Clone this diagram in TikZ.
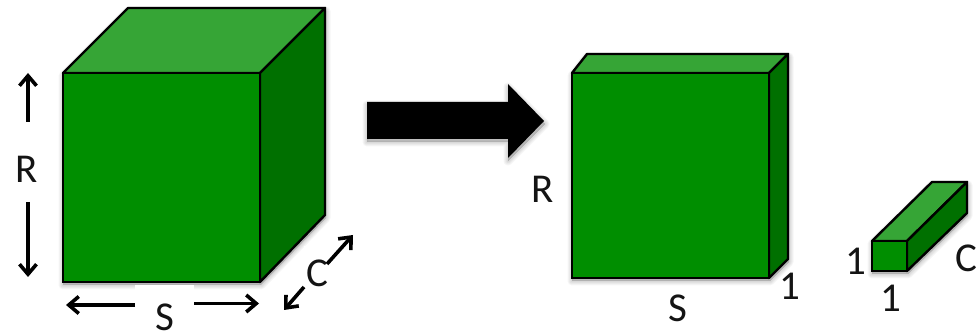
\documentclass[tikz,border=0pt]{standalone}
\usepackage{fontspec}
\setmainfont{Carlito}
\usetikzlibrary{arrows.meta}
\tikzset{
  front/.style={fill=frontgreen,draw=black,line width=2.4pt,line join=miter},
  topface/.style={fill=topgreen,draw=black,line width=2.4pt,line join=round},
  sideface/.style={fill=sidegreen,draw=black,line width=2.4pt,line join=round},
  dim/.style={draw=black,line width=3.6pt,-{Straight Barb[length=10pt,width=17pt,line width=3.6pt]}},
  lab/.style={font=\fontsize{41}{41}\selectfont,text=labelgray,inner sep=0pt,anchor=center},
  patch/.style={fill=white,draw=none},
  soft/.style={draw=black,fill=black,opacity=0.035,line join=round}
}
\definecolor{frontgreen}{RGB}{0,142,0}
\definecolor{topgreen}{RGB}{54,165,54}
\definecolor{sidegreen}{RGB}{0,112,0}
\definecolor{labelgray}{RGB}{20,20,20}
\newcommand{\softshadow}[1]{%
  \foreach \w in {1,3,5,7,9}{
    \path[soft,line width=\w pt] #1;
  }}
\begin{document}
\begin{tikzpicture}[x=1pt,y=-1pt]
\useasboundingbox (0,0) rectangle (980,336);
\fill[white] (0,0) rectangle (980,336);
% shadows
\softshadow{(63,76) -- (128,11) -- (326,11) -- (326,218) -- (261,285) -- (63,285) -- cycle}
\softshadow{(572,76) -- (587,57) -- (789,57) -- (789,262) -- (770,281) -- (572,281) -- cycle}
\softshadow{(872,244) -- (932,185) -- (968,185) -- (968,216) -- (908,274) -- (872,274) -- cycle}
\softshadow{(367,105) -- (508,105) -- (508,87) -- (545,124) -- (508,161) -- (508,142) -- (367,142) -- cycle}
% white patches behind labels
\path[patch] (135,285) rectangle (194,336);
\path[patch] (304,246) rectangle (327,290);
% large cube
\path[topface] (63,73) -- (128,8) -- (325,8) -- (260,73) -- cycle;
\path[sideface] (260,73) -- (325,8) -- (325,215) -- (260,282) -- cycle;
\path[front] (63,73) rectangle (260,282);
% slab
\path[topface] (572,73) -- (587,54) -- (788,54) -- (769,73) -- cycle;
\path[sideface] (769,73) -- (788,54) -- (788,259) -- (769,278) -- cycle;
\path[front] (572,73) rectangle (769,278);
% rod
\path[topface] (872,241) -- (932,182) -- (967,182) -- (907,241) -- cycle;
\path[sideface] (907,241) -- (967,182) -- (967,213) -- (907,271) -- cycle;
\path[front] (872,241) rectangle (907,271);
% block arrow
\fill[black] (367,102) -- (508,102) -- (508,84) -- (544,121) -- (508,158) -- (508,139) -- (367,139) -- cycle;
% dimension arrows
\coordinate (ru0) at (28,122); \coordinate (ru1) at (28,73);
\coordinate (rd0) at (28,202); \coordinate (rd1) at (28,277);
\coordinate (sl0) at (135,305); \coordinate (sl1) at (66,305);
\coordinate (sr0) at (194,303.5); \coordinate (sr1) at (259,303.5);
\coordinate (cu0) at (327,264); \coordinate (cu1) at (353,235);
\coordinate (cd0) at (304,287); \coordinate (cd1) at (284,310);
\draw[dim] (ru0) -- (ru1);
\draw[dim] (rd0) -- (rd1);
\draw[dim] (sl0) -- (sl1);
\draw[dim] (sr0) -- (sr1);
\draw[dim] (cu0) -- (cu1);
\draw[dim] (cd0) -- (cd1);
% labels
\node[lab] (r1) at (27,169) {R};
\node[lab] (s1) at (165,317.5) {S};
\node[lab] (c1) at (317,273) {C};
\node[lab] (r2) at (543,189) {R};
\node[lab] (s2) at (678,308) {S};
\node[lab] (o2) at (790,286) {1};
\node[lab] (o3) at (856,261) {1};
\node[lab] (o4) at (891,298) {1};
\node[lab] (c3) at (966,258) {C};
\end{tikzpicture}
\end{document}
